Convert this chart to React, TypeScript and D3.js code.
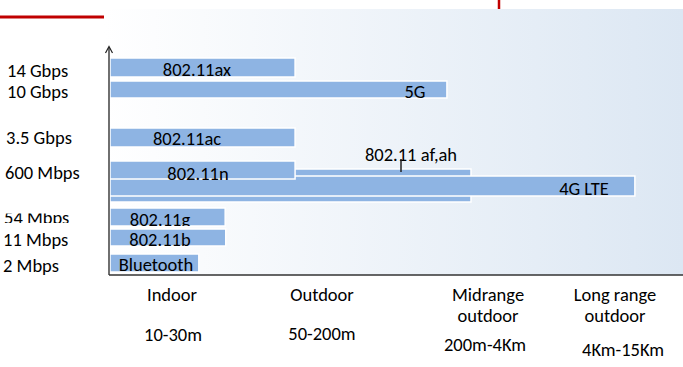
import React from "react";
import * as d3 from "d3";

// ---- data ----
const techNames = ["802.11 af,ah", "4G LTE", "802.11ax", "5G", "802.11ac", "802.11n", "802.11g", "802.11b", "Bluetooth"];
const techReach = [63.0, 91.6, 32.3, 58.8, 32.3, 32.3, 20.1, 20.2, 15.5]; // relative coverage (0-100)
const techLevel = [10.6, 9.9, 21.7, 19.4, 14.7, 11.4, 6.7, 4.6, 2.1]; // top of bar on rate axis
const techThick = [3.3, 2.0, 1.9, 1.7, 1.9, 1.8, 1.8, 1.7, 1.8];

const rateLabels = ["14 Gbps", "10 Gbps", "3.5 Gbps", "600 Mbps", "54 Mbps", "11 Mbps", "2 Mbps"];
const rateLevels = [19.8, 17.7, 13.1, 9.6, 5.1, 2.9, 0.3];

const rangeNames = [["Indoor"], ["Outdoor"], ["Midrange", "outdoor"], ["Long range", "outdoor"]];
const rangeDistances = ["10-30m", "50-200m", "200m-4Km", "4Km-15Km"];

// ---- layout ----
const W = 683, H = 367;
const x = d3.scaleLinear().domain([0, 100]).range([110, 683]);
const y = d3.scaleLinear().domain([0, 23]).range([275, 45]);

const labelPos: Record<string, { cx: number; base: number; clip: boolean }> = {
  "802.11 af,ah": { cx: 411, base: 161, clip: false },
  "4G LTE": { cx: 584, base: 195, clip: false },
  "802.11ax": { cx: 197, base: 76, clip: false },
  "5G": { cx: 415, base: 98, clip: false },
  "802.11ac": { cx: 187, base: 145, clip: false },
  "802.11n": { cx: 198, base: 180, clip: false },
  "802.11g": { cx: 160, base: 226, clip: true },
  "802.11b": { cx: 160, base: 246, clip: false },
  "Bluetooth": { cx: 156, base: 271, clip: true },
};
const rateX = [7, 7, 6, 5, 4, 3, 3];
const rangeCx = [172, 322, 488, 615];
const distCx = [173, 322, 485, 623];
const distBase = [341, 340, 351, 356];

const FONT = "Carlito, Lato, 'Open Sans', sans-serif";
const FS = 18.5;
const BAR = "#8eb4e3";

export default function App() {
  const bars = techNames.map((n, i) => ({
    name: n,
    x0: x(0),
    x1: x(techReach[i]),
    y0: y(techLevel[i]),
    h: y(0) - y(techThick[i]),
  }));
  return (
    <svg width={W} height={H} style={{ position: "absolute", left: 0, top: 0, background: "#fff" }} fontFamily={FONT}>
      <defs>
        <linearGradient id="bg" x1="0" x2="1" y1="0" y2="0">
          <stop offset="0" stopColor="#ffffff" />
          <stop offset="1" stopColor="#dce7f3" />
        </linearGradient>
        <clipPath id="clip54">
          <rect x={0} y={213.5} width={100} height={9.5} />
        </clipPath>
        {bars.map((b, i) => (
          <clipPath id={`bc${i}`} key={i}>
            <rect x={b.x0} y={b.y0} width={b.x1 - b.x0} height={b.h} />
          </clipPath>
        ))}
      </defs>
      <rect x={104} y={9} width={W - 104} height={275 - 9} fill="url(#bg)" />
      <line x1={0} x2={104} y1={17} y2={17} stroke="#c00000" strokeWidth={3} />
      <line x1={499} x2={499} y1={0} y2={9} stroke="#c00000" strokeWidth={2.5} />

      {bars.map((b) => (
        <rect key={b.name} x={b.x0} y={b.y0} width={b.x1 - b.x0} height={b.h} fill={BAR} stroke="#fff" strokeWidth={1.5} />
      ))}
      {bars.map((b, i) => {
        const p = labelPos[b.name];
        return (
          <text
            key={b.name}
            x={p.cx}
            y={p.base}
            textAnchor="middle"
            fontSize={FS}
            fill="#000"
            clipPath={p.clip ? `url(#bc${i})` : undefined}
          >
            {b.name}
          </text>
        );
      })}
      <line x1={401} x2={401} y1={159} y2={172} stroke="#222" strokeWidth={1.5} />

      {/* axes */}
      <line x1={109} x2={109} y1={47} y2={275} stroke="#222" strokeWidth={1.3} />
      <line x1={109} x2={W} y1={275} y2={275} stroke="#333" strokeWidth={1.3} />
      <path d="M105.5,53 L109,46.5 L112.5,53" fill="none" stroke="#222" strokeWidth={1.2} />

      {rateLabels.map((t, i) => (
        <text key={t} x={rateX[i]} y={y(rateLevels[i])} fontSize={FS} fill="#000" clipPath={t === "54 Mbps" ? "url(#clip54)" : undefined}>
          {t}
        </text>
      ))}

      {rangeNames.map((lines, i) =>
        lines.map((l, j) => (
          <text key={`${i}-${j}`} x={rangeCx[i]} y={301 + j * 21} textAnchor="middle" fontSize={FS} fill="#000">
            {l}
          </text>
        ))
      )}
      {rangeDistances.map((t, i) => (
        <text key={t} x={distCx[i]} y={distBase[i]} textAnchor="middle" fontSize={FS} fill="#000">
          {t}
        </text>
      ))}
    </svg>
  );
}
